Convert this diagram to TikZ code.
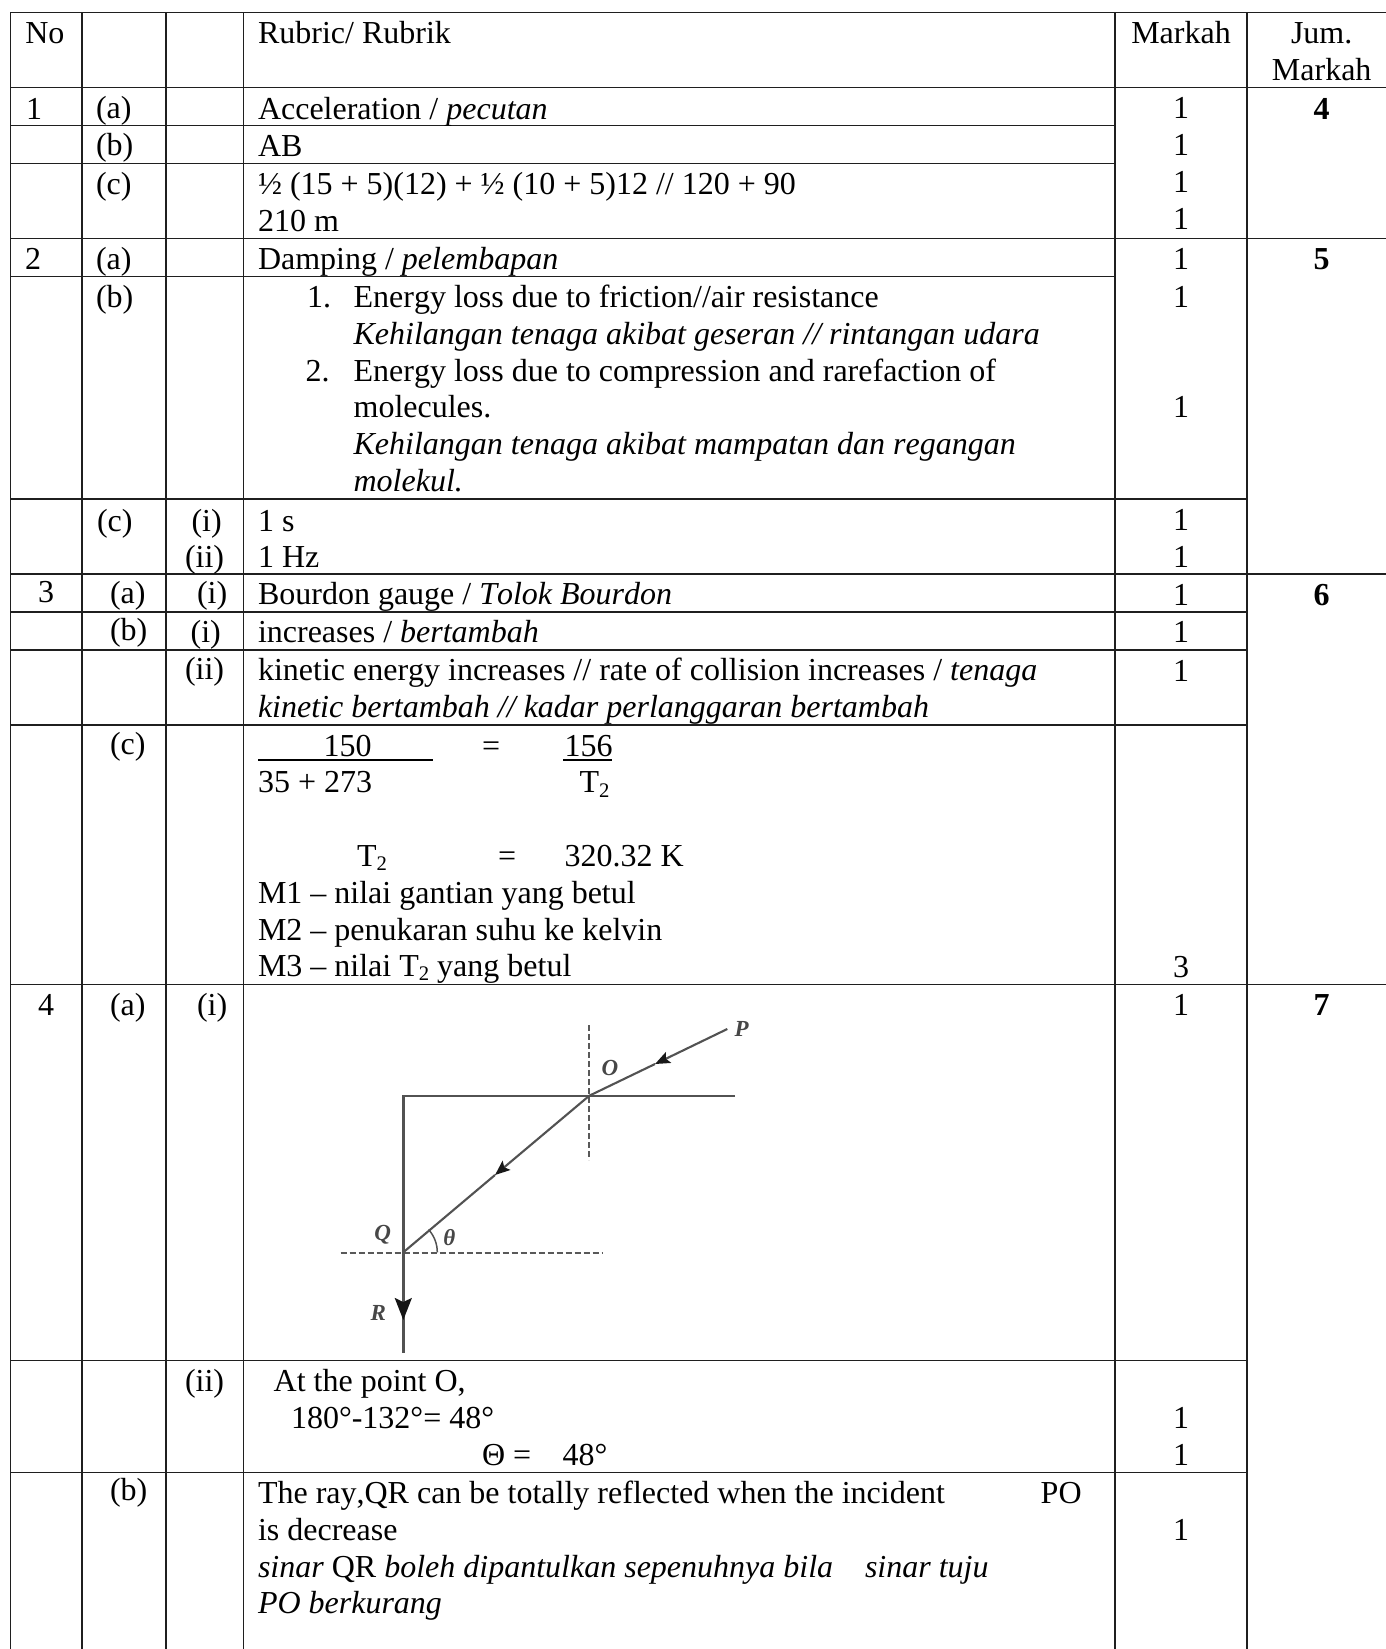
\documentclass[tikz,border=0pt]{standalone}
\usepackage{fontspec}
\setmainfont[Ligatures=NoCommon,Kerning=Off]{Liberation Serif}
\usetikzlibrary{arrows.meta}
\newcommand{\subtwo}{\raisebox{-4.5pt}{\fontsize{20.7}{20}\selectfont 2}}
\tikzset{
  tx/.style={anchor=base west,inner sep=0pt,outer sep=0pt,text=black,yshift=-1pt,font=\fontsize{32}{37}\selectfont},
  ctx/.style={tx,anchor=base},
  bld/.style={ctx,font=\fontsize{32}{37}\selectfont\bfseries},
  rulebar/.style={line width=1.5pt,color=black!88},
  ray/.style={line width=2.1pt,color=black!68},
  rayarrow/.style={ray,-{Stealth[length=15pt,width=12pt,inset=3pt,color=black!90]}},
  bigarrow/.style={ray,-{Stealth[length=22pt,width=17pt,inset=4pt,color=black!92]}},
  dashline/.style={line width=2.2pt,color=black!65,dash pattern=on 6pt off 3pt},
  lbl/.style={anchor=center,inner sep=0pt,text=black!72,font=\fontsize{23}{24}\selectfont\bfseries\itshape}
}
\begin{document}
\begin{tikzpicture}[x=1pt,y=-1pt]
\useasboundingbox (0,0) rectangle (1386,1649);
\fill[white] (0,0) rectangle (1386,1649);
% verticals
\draw[rulebar] (10.7,12.3) -- (10.7,1649);
\draw[rulebar] (82,12.3) -- (82,1649);
\draw[rulebar] (166.2,12.3) -- (166.2,1649);
\draw[rulebar] (243.3,12.3) -- (243.3,1649);
\draw[rulebar] (1115,12.3) -- (1115,1649);
\draw[rulebar] (1247,12.3) -- (1247,1649);
% horizontals
\draw[rulebar] (10,12.3) -- (1386,12.3);
\draw[rulebar] (10,87.3) -- (1386,87.3);
\draw[rulebar] (10,125.7) -- (1115,125.7);
\draw[rulebar] (10,163.7) -- (1115,163.7);
\draw[rulebar] (10,238.7) -- (1386,238.7);
\draw[rulebar] (10,276.7) -- (1115,276.7);
\draw[rulebar] (10,499) -- (1247,499);
\draw[rulebar] (10,574) -- (1386,574);
\draw[rulebar] (10,612) -- (1247,612);
\draw[rulebar] (10,650) -- (1247,650);
\draw[rulebar] (10,725) -- (1247,725);
\draw[rulebar] (10,984.3) -- (1386,984.3);
\draw[rulebar] (10,1360.5) -- (1247,1360.5);
\draw[rulebar] (10,1472.3) -- (1247,1472.3);
% header
\node[tx] (hNo) at (25.3,42.3) {No};
\node[tx] (hRub) at (258,42.3) {Rubric/ Rubrik};
\node[ctx] (hMark) at (1181,42.3) {Markah};
\node[ctx] (hJum) at (1321.7,42.3) {Jum.};
\node[ctx] (hJumb) at (1321.7,79.3) {Markah};
% question 1
\node[tx] (q1) at (26,118) {1};
\node[tx] (q1a) at (96,117) {(a)};
\node[tx] (q1at) at (258,118) {Acceleration / \textit{pecutan}};
\node[tx] (q1b) at (96,154.5) {(b)};
\node[tx] (q1bt) at (258,155) {AB};
\node[tx] (q1c) at (96,193) {(c)};
\node[tx] (q1ct) at (258,193.5) {½ (15 + 5)(12) + ½ (10 + 5)12 // 120 + 90};
\node[tx] (q1cu) at (258,230.7) {210 m};
\node[ctx] (m1a) at (1181,117.5) {1};
\node[ctx] (m1b) at (1181,154.5) {1};
\node[ctx] (m1c) at (1181,191) {1};
\node[ctx] (m1d) at (1181,228) {1};
\node[bld] (s4) at (1321.7,118) {4};
% question 2
\node[tx] (q2) at (25,268.7) {2};
\node[tx] (q2a) at (96,268.7) {(a)};
\node[tx] (q2at) at (258,268.7) {Damping / \textit{pelembapan}};
\node[tx] (q2b) at (96,306.7) {(b)};
\node[tx] (q2n1) at (307,306.7) {1.};
\node[tx] (q2l1) at (353.6,306.7) {Energy loss due to friction//air resistance};
\node[tx] (q2l2) at (353.6,343.3) {\textit{Kehilangan tenaga akibat geseran // rintangan udara}};
\node[tx] (q2n2) at (305.7,380) {2.};
\node[tx] (q2l3) at (353.6,380) {Energy loss due to compression and rarefaction of};
\node[tx] (q2l4) at (353.6,416.7) {molecules.};
\node[tx] (q2l5) at (353.6,453.3) {\textit{Kehilangan tenaga akibat mampatan dan regangan}};
\node[tx] (q2l6) at (353.6,490.7) {\textit{molekul.}};
\node[tx] (q2c) at (97,530) {(c)};
\node[tx] (q2ci) at (191.5,530) {(i)};
\node[tx] (q2cit) at (258,530) {1 s};
\node[tx] (q2cii) at (185,566) {(ii)};
\node[tx] (q2ciit) at (258,566) {1 Hz};
\node[ctx] (m2a) at (1181,268) {1};
\node[ctx] (m2b) at (1181,306) {1};
\node[ctx] (m2c) at (1181,416.5) {1};
\node[ctx] (m2d) at (1181,529.5) {1};
\node[ctx] (m2e) at (1181,566) {1};
\node[bld] (s5) at (1321.7,268) {5};
% question 3
\node[tx] (q3) at (38,601) {3};
\node[tx] (q3a) at (110,602) {(a)};
\node[tx] (q3ai) at (197,602) {(i)};
\node[tx] (q3at) at (258,603.3) {Bourdon gauge / \textit{Tolok Bourdon}};
\node[tx] (q3b) at (110,639.5) {(b)};
\node[tx] (q3bi) at (190.6,641) {(i)};
\node[tx] (q3bit) at (258,641) {increases / \textit{bertambah}};
\node[tx] (q3bii) at (185,678) {(ii)};
\node[tx] (q3bl1) at (258,679.3) {kinetic energy increases // rate of collision increases / \textit{tenaga}};
\node[tx] (q3bl2) at (258,716.7) {\textit{kinetic bertambah // kadar perlanggaran bertambah}};
\node[tx] (q3c) at (110,753) {(c)};
\node[tx] (f150) at (323.7,755.5) {150};
\node[tx] (feq) at (482,755.5) {=};
\node[tx] (f156) at (564.7,755.5) {156};
\coordinate (ua) at (258,760);
\coordinate (ub) at (433,760);
\coordinate (uc) at (563.4,760);
\coordinate (ud) at (611.6,760);
\draw[line width=1.5pt] (ua) -- (ub);
\draw[line width=1.5pt] (uc) -- (ud);
\node[tx] (fden) at (258,791.7) {35 + 273};
\node[tx] (ftt) at (579.5,791.7) {T\subtwo};
\node[tx] (gt) at (357,865) {T\subtwo};
\node[tx] (geq) at (498,865) {=};
\node[tx] (gv) at (564.7,865) {320.32 K};
\node[tx] (qm1) at (258,902.3) {M1 – nilai gantian yang betul};
\node[tx] (qm2) at (258,939.3) {M2 – penukaran suhu ke kelvin};
\node[tx] (qm3) at (258,975) {M3 – nilai T\subtwo{} yang betul};
\node[ctx] (m3a) at (1181,604) {1};
\node[ctx] (m3b) at (1181,641.5) {1};
\node[ctx] (m3c) at (1181,680) {1};
\node[ctx] (m3d) at (1181,976) {3};
\node[bld] (s6) at (1321.7,604) {6};
% question 4
\node[tx] (q4) at (38,1014) {4};
\node[tx] (q4a) at (110,1014) {(a)};
\node[tx] (q4ai) at (197,1014) {(i)};
\node[ctx] (m4a) at (1181,1014.5) {1};
\node[bld] (s7) at (1321.7,1014.5) {7};
% optics figure
\coordinate (O) at (589.3,1095.7);
\coordinate (Pe) at (727.3,1029);
\coordinate (Ar1) at (655,1064);
\coordinate (Qp) at (403.3,1252.3);
\coordinate (Ar2) at (495,1175);
\coordinate (Cr) at (403.3,1095.7);
\coordinate (Mr) at (735,1095.7);
\coordinate (Rt) at (403.3,1320);
\coordinate (Re) at (403.3,1353.3);
\coordinate (Va) at (589.3,1025);
\coordinate (Vb) at (589.3,1160);
\coordinate (Ha) at (340.7,1252.7);
\coordinate (Hb) at (603.3,1252.7);
\draw[dashline] (Va) -- (Vb);
\draw[dashline] (Ha) -- (Hb);
\draw[ray,line width=2.4pt] (Mr) -- (Cr) -- (Qp) -- (Re);
\draw[rayarrow] (Pe) -- (Ar1);
\draw[ray] (Ar1) -- (O);
\draw[rayarrow] (O) -- (Ar2);
\draw[ray] (Ar2) -- (Qp);
\draw[bigarrow] (Qp) -- (Rt);
\draw[ray,line width=1.5pt] ([xshift=34pt]Qp) arc[start angle=0,end angle=42,radius=34pt];
\node[lbl] (lP) at (741.7,1029.3) {P};
\node[lbl] (lO) at (610,1068) {O};
\node[lbl] (lQ) at (382.7,1235) {Q};
\node[lbl] (lT) at (449.3,1237.3) {θ};
\node[lbl] (lR) at (378.3,1312.7) {R};
% part ii
\node[tx] (q4ii) at (185,1390.7) {(ii)};
\node[tx] (q4l1) at (273.7,1390.7) {At the point O,};
\node[tx] (q4l2) at (291,1427.7) {180°-132°= 48°};
\node[tx] (q4th) at (482,1464) {Θ =};
\node[tx] (q4v) at (562.5,1464) {48°};
\node[ctx] (m4b) at (1181,1427.5) {1};
\node[ctx] (m4c) at (1181,1464) {1};
% part b
\node[tx] (q4b) at (110,1499.5) {(b)};
\node[tx] (q4t1) at (258,1502.7) {The ray,QR can be totally reflected when the incident};
\node[tx] (q4po) at (1040.7,1502.7) {PO};
\node[tx] (q4t2) at (258,1539) {is decrease};
\node[tx] (q4t3) at (258,1576) {\textit{sinar} QR \textit{boleh dipantulkan sepenuhnya bila}};
\node[tx] (q4t3b) at (865,1576) {\textit{sinar tuju}};
\node[tx] (q4t4) at (258,1612.7) {\textit{PO berkurang}};
\node[ctx] (m4d) at (1181,1539) {1};
\end{tikzpicture}
\end{document}
